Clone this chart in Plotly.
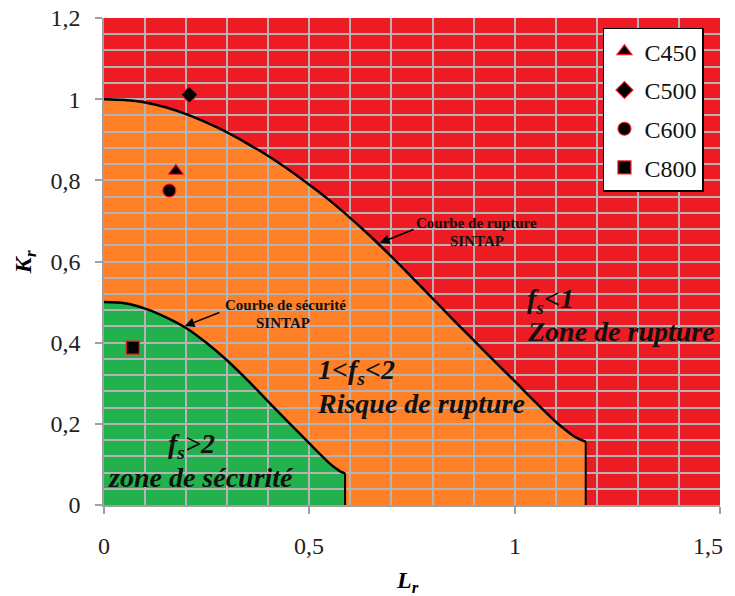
import plotly.graph_objects as go

# ---- data ----
rupture_lr = [0, 0.05, 0.1, 0.15, 0.2, 0.25, 0.3, 0.35, 0.4, 0.45, 0.5, 0.55, 0.6, 0.65,
              0.7, 0.75, 0.8, 0.85, 0.9, 0.95, 1.0, 1.05, 1.1, 1.13, 1.15, 1.173]
rupture_kr = [1.0, 0.998, 0.992, 0.980, 0.963, 0.942, 0.918, 0.890, 0.860, 0.826, 0.789, 0.750,
              0.707, 0.661, 0.612, 0.561, 0.509, 0.457, 0.406, 0.355, 0.305, 0.254, 0.205,
              0.180, 0.166, 0.156]

safety_lr = [0, 0.05, 0.1, 0.15, 0.2, 0.25, 0.3, 0.35, 0.4, 0.45, 0.5, 0.55, 0.565,
             0.575, 0.587]
safety_kr = [0.5, 0.497, 0.484, 0.463, 0.436, 0.399, 0.356, 0.307, 0.255, 0.203, 0.152,
             0.102, 0.090, 0.083, 0.078]

series_names = ["C450", "C500", "C600", "C800"]
series_lr = [0.175, 0.208, 0.159, 0.070]
series_kr = [0.823, 1.011, 0.775, 0.388]
series_symbols = ["triangle-up", "diamond", "circle", "square"]

x_tickvals = [0, 0.5, 1, 1.5]
x_ticktext = ["0", "0,5", "1", "1,5"]
y_tickvals = [0, 0.2, 0.4, 0.6, 0.8, 1.0, 1.2]
y_ticktext = ["0", "0,2", "0,4", "0,6", "0,8", "1", "1,2"]

RED = "#ED1C24"
ORANGE = "#FF8027"
GREEN = "#22B14C"
GRID = "#B4B4B4"
SERIF = "Liberation Serif"


def fill_path(xs, ys):
    pts = [(0, 0)] + list(zip(xs, ys)) + [(xs[-1], 0)]
    return "M " + " L ".join(f"{x},{y}" for x, y in pts) + " Z"


fig = go.Figure()

# boundary curves (smooth part + vertical end drop)
for xs, ys in [(rupture_lr, rupture_kr), (safety_lr, safety_kr)]:
    fig.add_trace(go.Scatter(x=xs, y=ys, mode="lines", line_shape="spline",
                             line=dict(color="black", width=2.5, smoothing=0.8),
                             showlegend=False, hoverinfo="skip"))
    fig.add_trace(go.Scatter(x=[xs[-1], xs[-1]], y=[ys[-1], 0], mode="lines",
                             line=dict(color="black", width=2),
                             showlegend=False, hoverinfo="skip"))

# data points
for i, name in enumerate(series_names):
    fig.add_trace(go.Scatter(
        x=[series_lr[i]], y=[series_kr[i]], mode="markers", name=name,
        legendgroup=name,
        marker=dict(symbol=series_symbols[i], size=13, color="black",
                    line=dict(color=RED, width=1.2)),
    ))

shapes = [
    dict(type="path", xref="x", yref="y", path=fill_path(rupture_lr, rupture_kr),
         fillcolor=ORANGE, line=dict(width=0), layer="below"),
    dict(type="path", xref="x", yref="y", path=fill_path(safety_lr, safety_kr),
         fillcolor=GREEN, line=dict(width=0), layer="below"),
]

TXT = "#111111"


def label(x, y, text, size, xanchor="center", **kw):
    return dict(x=x, y=y, xref="x", yref="y", text=text, showarrow=False,
                xanchor=xanchor, yanchor="middle",
                font=dict(family=SERIF, size=size, color=TXT), **kw)


annotations = [
    # labels of curves
    label(0.908, 0.695, "<b>Courbe de rupture</b>", 15),
    label(0.908, 0.650, "<b>SINTAP</b>", 15),
    dict(x=0.672, y=0.646, xref="x", yref="y", ax=35, ay=-14, text="",
         showarrow=True, arrowhead=2, arrowsize=1.2, arrowwidth=1.6, arrowcolor="black"),
    label(0.441, 0.493, "<b>Courbe de sécurité</b>", 15),
    label(0.436, 0.449, "<b>SINTAP</b>", 15),
    dict(x=0.197, y=0.441, xref="x", yref="y", ax=36, ay=-14, text="",
         showarrow=True, arrowhead=2, arrowsize=1.2, arrowwidth=1.6, arrowcolor="black"),
    # zone labels
    label(1.025, 0.503, "<b><i>f<sub>s</sub><1</i></b>", 28, xanchor="left"),
    label(1.025, 0.428, "<b><i>Zone de rupture</i></b>", 28, xanchor="left"),
    label(0.517, 0.330, "<b><i>1<f<sub>s</sub><2</i></b>", 28, xanchor="left"),
    label(0.514, 0.250, "<b><i>Risque de rupture</i></b>", 28, xanchor="left"),
    label(0.212, 0.147, "<b><i>f<sub>s</sub>>2</i></b>", 28),
    label(0.236, 0.067, "<b><i>zone de sécurité</i></b>", 28),
    # axis titles
    dict(x=0.4935, y=-0.158, xref="paper", yref="paper", xanchor="center",
         yanchor="middle", text="<b><i>L<sub>r</sub></i></b>", showarrow=False,
         font=dict(family=SERIF, size=24, color="black")),
    dict(x=-0.128, y=0.499, xref="paper", yref="paper", xanchor="center",
         yanchor="middle", textangle=-90,
         text="<b><i>K<sub>r</sub></i></b>", showarrow=False,
         font=dict(family=SERIF, size=24, color="black")),
]

# x tick labels (last one kept inside the figure, as in the reference)
for i, (v, t) in enumerate(zip(x_tickvals, x_ticktext)):
    last = i == len(x_tickvals) - 1
    annotations.append(dict(
        x=v, y=-0.0842, xref="x", yref="paper", text=t, showarrow=False,
        xanchor="right" if last else "center", yanchor="middle",
        xshift=5 if last else 0,
        font=dict(family=SERIF, size=24, color="#222222")))

# the page body adds an 8 px offset, so margins are set 8 px smaller on left/top
fig.update_layout(
    width=735, height=596,
    margin=dict(l=96, r=23, t=10, b=99, autoexpand=False),
    paper_bgcolor="white", plot_bgcolor=RED,
    shapes=shapes, annotations=annotations,
    font=dict(family=SERIF, color="#222222"),
    legend=dict(x=0.81, y=0.98, xanchor="left", yanchor="top",
                bgcolor="white", bordercolor="black", borderwidth=1.5,
                font=dict(family=SERIF, size=24, color="#111111"),
                traceorder="grouped", tracegroupgap=4.5,
                itemwidth=30),
)

fig.update_xaxes(range=[0, 1.5], tickvals=x_tickvals, showticklabels=False,
                 automargin=False,
                 showgrid=True, gridcolor=GRID, gridwidth=1.5,
                 minor=dict(dtick=0.1, tick0=0, showgrid=True, gridcolor=GRID,
                            gridwidth=1.5, ticks=""),
                 showline=True, linecolor="#A0A0A0", linewidth=1.5,
                 ticks="outside", ticklen=7, tickcolor="#A0A0A0", tickwidth=1.5,
                 zeroline=False, fixedrange=True)
fig.update_yaxes(range=[0, 1.2], tickvals=y_tickvals, ticktext=y_ticktext,
                 automargin=False, ticklabeloverflow="allow",
                 showgrid=True, gridcolor=GRID, gridwidth=1.5,
                 minor=dict(dtick=0.04, tick0=0, showgrid=True, gridcolor=GRID,
                            gridwidth=1.5, ticks=""),
                 showline=True, linecolor="#A0A0A0", linewidth=1.5,
                 ticks="outside", ticklen=7, tickcolor="#A0A0A0", tickwidth=1.5,
                 tickfont=dict(family=SERIF, size=24, color="#222222"),
                 ticklabelstandoff=10, zeroline=False, fixedrange=True)

fig.write_html("out.html")
